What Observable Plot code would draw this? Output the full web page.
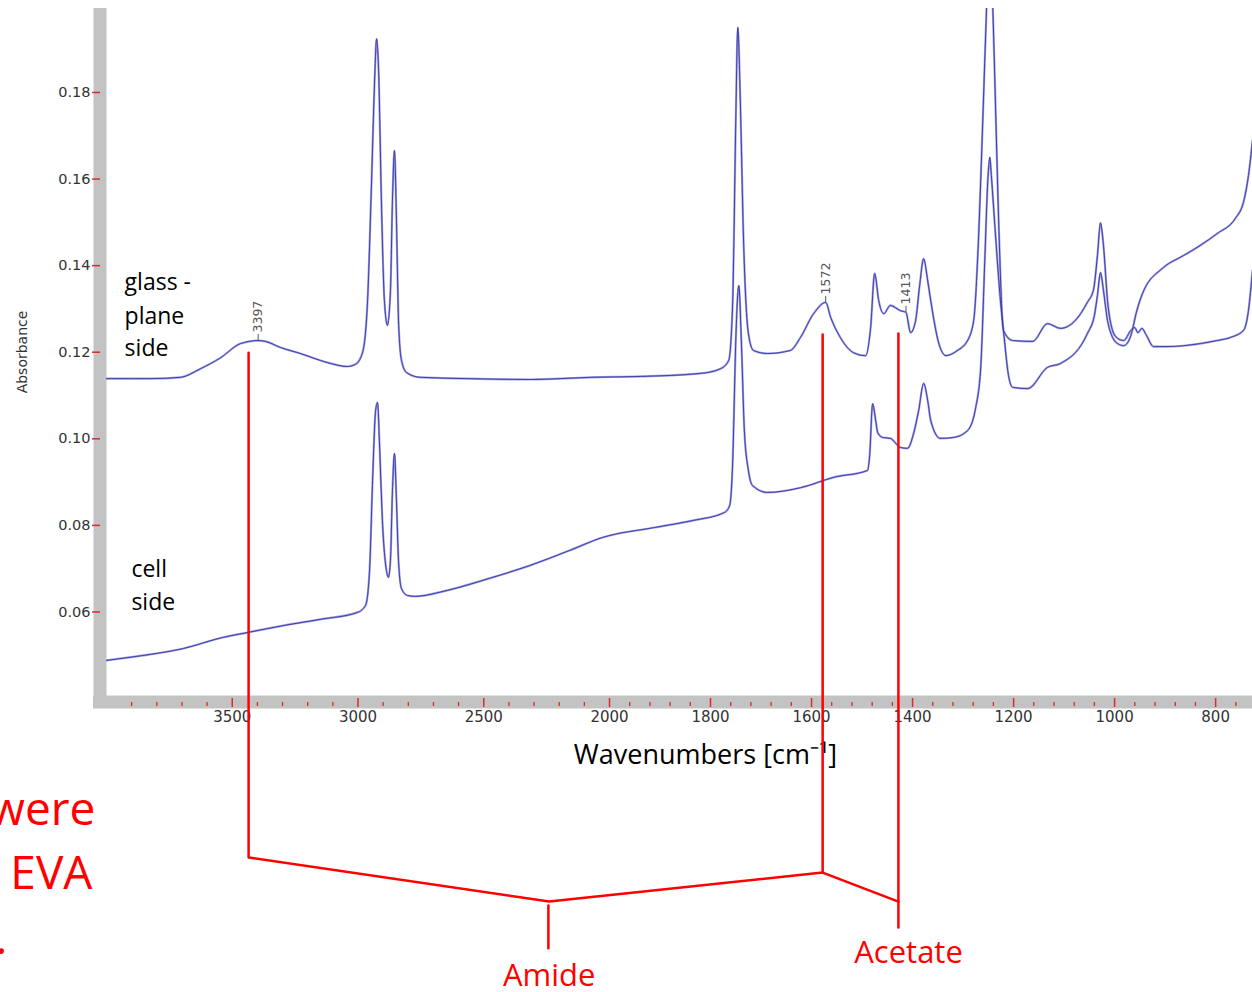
<!DOCTYPE html>
<html><head><meta charset="utf-8">
<script src="https://cdn.jsdelivr.net/npm/d3@7"></script>
<script src="https://cdn.jsdelivr.net/npm/@observablehq/plot@0.6"></script>
<style>body{margin:0;background:#fff;}#chart svg{display:block;}</style>
</head><body><div id="chart"></div>
<script>
// ---- spectra (wavenumber cm-1, absorbance) ----
const glassWn = [4000,3825,3706,3626,3547,3467,3397,3368,3308,3229,3121,3042,3010,2982,2962,2946,2934,2926,2918,2907,2895,2883,2871,2863,2855,2847,2839,2827,2807,2752,2565,2314,2076,1939,1820,1780,1764,1756,1750,1746,1741,1735,1725,1715,1687,1642,1622,1596,1572,1562,1543,1517,1493,1483,1475,1467,1457,1444,1424,1413,1404,1394,1386,1378,1370,1364,1348,1334,1311,1291,1279,1269,1261,1255,1248,1241,1235,1229,1220,1202,1162,1133,1107,1078,1054,1042,1034,1028,1022,1014,1004,994,982,968,960,954,946,937,923,899,864,830,797,771,745,735,727];
const glassAbs = [0.1139,0.1139,0.1142,0.1162,0.1187,0.1220,0.1227,0.1225,0.1211,0.1197,0.1176,0.1167,0.1172,0.1199,0.1319,0.1596,0.1827,0.1924,0.1851,0.1550,0.1319,0.1262,0.1342,0.1550,0.1666,0.1504,0.1273,0.1181,0.1153,0.1142,0.1139,0.1137,0.1142,0.1144,0.1151,0.1162,0.1181,0.1319,0.1735,0.1950,0.1781,0.1474,0.1243,0.1204,0.1197,0.1204,0.1234,0.1289,0.1315,0.1280,0.1234,0.1199,0.1192,0.1257,0.1382,0.1319,0.1289,0.1308,0.1296,0.1292,0.1245,0.1273,0.1354,0.1416,0.1365,0.1319,0.1220,0.1192,0.1204,0.1227,0.1273,0.1474,0.1735,0.1943,0.2150,0.1989,0.1735,0.1481,0.1250,0.1227,0.1225,0.1266,0.1255,0.1273,0.1315,0.1343,0.1423,0.1499,0.1446,0.1319,0.1250,0.1232,0.1227,0.1250,0.1257,0.1245,0.1255,0.1239,0.1213,0.1213,0.1215,0.1220,0.1227,0.1234,0.1250,0.1296,0.1389];
const cellWn = [4000,3861,3698,3539,3435,3292,3149,3002,2970,2954,2942,2930,2922,2915,2903,2887,2879,2871,2863,2855,2847,2839,2827,2803,2775,2644,2481,2318,2159,2028,1911,1836,1772,1762,1756,1750,1744,1739,1733,1725,1717,1687,1622,1556,1489,1485,1479,1473,1469,1459,1444,1424,1410,1398,1388,1378,1370,1364,1345,1319,1291,1275,1265,1257,1251,1247,1244,1236,1226,1220,1210,1202,1172,1133,1107,1054,1040,1034,1028,1022,1014,1004,994,982,968,956,945,903,864,830,797,761,745,735,727];
const cellAbs = [0.0488,0.0499,0.0515,0.0541,0.0553,0.0569,0.0583,0.0599,0.0615,0.0696,0.0904,0.1065,0.1084,0.0996,0.0811,0.0696,0.0680,0.0719,0.0880,0.0966,0.0857,0.0719,0.0654,0.0638,0.0636,0.0650,0.0677,0.0707,0.0742,0.0772,0.0795,0.0811,0.0830,0.0846,0.0950,0.1227,0.1354,0.1227,0.1019,0.0927,0.0892,0.0876,0.0887,0.0911,0.0927,0.0961,0.1081,0.1042,0.1014,0.1003,0.1001,0.0980,0.0978,0.1012,0.1065,0.1128,0.1088,0.1042,0.1001,0.1003,0.1019,0.1072,0.1165,0.1412,0.1597,0.1650,0.1608,0.1474,0.1319,0.1250,0.1146,0.1119,0.1116,0.1165,0.1174,0.1243,0.1285,0.1331,0.1384,0.1342,0.1273,0.1234,0.1220,0.1215,0.1238,0.1296,0.1335,0.1396,0.1423,0.1447,0.1474,0.1509,0.1546,0.1608,0.1689];

// ---- axes ----
const xMajorTicks = [3500,3000,2500,2000,1800,1600,1400,1200,1000,800];
const xMinorTicks = [3900,3800,3700,3600,3400,3300,3200,3100,2900,2800,2700,2600,2400,2300,2200,2100,1960,1920,1880,1840,1760,1720,1680,1640,1560,1520,1480,1440,1360,1320,1280,1240,1160,1120,1080,1040,960,920,880,840,760];
const yTicks = [0.06,0.08,0.10,0.12,0.14,0.16,0.18];
const xBreaks = [4000,2000,727];
const yExtent = [0.0407,0.1994];

// ---- peak labels ----
const peakWn = [3397,1572,1413];
const peakAbs = [0.1227,0.1315,0.1292];

// ---- spectrum labels ----
const sideText = ["glass -","plane","side","cell","side"];
const sideWn = [3928,3928,3928,3901,3901];
const sideAbs = [0.1343,0.1266,0.1192,0.0680,0.0604];

// ---- red annotation brackets ----
const bracketWn  = [3435,3435,2240,1578,1578, 1578,1428, 1428,1428, 2243,2243];
const bracketAbs = [0.1199,0.0033,-0.0069,-0.0002,0.1241, -0.0002,-0.0069, 0.1243,-0.0129, -0.0078,-0.0177];
const bracketGroup = ["a","a","a","a","a","b","b","c","c","d","d"];
const noteText = ["Amide","Acetate"];
const noteWn = [2240,1408];
const noteAbs = [-0.0265,-0.0210];
const fragText = ["were","EVA","."];
const fragWn = [4044,4056,4394];
const fragAbs = [0.0107,-0.0039,-0.0189];

const glass = glassWn.map((w,i)=>({w, a: glassAbs[i]}));
const cell = cellWn.map((w,i)=>({w, a: cellAbs[i]}));
const peaks = peakWn.map((w,i)=>({w, a: peakAbs[i], t: String(w)}));
const sides = sideText.map((t,i)=>({t, w: sideWn[i], a: sideAbs[i]}));
const brackets = bracketWn.map((w,i)=>({w, a: bracketAbs[i], g: bracketGroup[i]}));
const notes = noteText.map((t,i)=>({t, w: noteWn[i], a: noteAbs[i]}));
const frags = fragText.map((t,i)=>({t, w: fragWn[i], a: fragAbs[i]}));

const RED = "#ff0000", TICK = "#dd2a2a", GRAY = "#c3c3c3";
const lineOpts = {x:"w", y:"a", curve:"monotone-x", clip:true};

const chart = Plot.plot({
  width: 1252, height: 992,
  marginLeft: 106, marginRight: 0, marginTop: 8, marginBottom: 297,
  style: {background:"#fff", fontFamily:"'DejaVu Sans', sans-serif", overflow:"visible"},
  x: {type:"linear", domain: xBreaks, range:[106, 609, 1252]},
  y: {type:"linear", domain: yExtent},
  marks: [
    Plot.ruleY([yExtent[0]], {stroke: GRAY, strokeWidth: 13, dy: 6.5, insetLeft: -13}),
    Plot.ruleX([xBreaks[0]], {stroke: GRAY, strokeWidth: 13, dx: -6.5, insetBottom: -13}),
    Plot.line(glass, {...lineOpts, stroke:"#a0a0ea", strokeWidth: 2.2}),
    Plot.line(cell, {...lineOpts, stroke:"#a0a0ea", strokeWidth: 2.2}),
    Plot.line(glass, {...lineOpts, stroke:"#34349a", strokeWidth: 0.9}),
    Plot.line(cell, {...lineOpts, stroke:"#34349a", strokeWidth: 0.9}),
    Plot.axisX(xMinorTicks, {anchor:"bottom", tickSize: 4, dy: 7, stroke: TICK, strokeWidth: 1.3, tickFormat: () => "", label: null}),
    Plot.axisX(xMajorTicks, {anchor:"bottom", tickSize: 9, dy: 3, tickPadding: 4, stroke: TICK, strokeWidth: 1.5, fill:"#333", fontSize: 15, tickFormat: d => String(d), label: null}),
    Plot.axisY(yTicks, {anchor:"left", tickSize: 8, dx: -6, tickPadding: 2, stroke: TICK, strokeWidth: 1.5, fill:"#333", fontSize: 14.5, tickFormat: d3.format(".2f"), label: null}),
    Plot.text(["Absorbance"], {frameAnchor:"left", textAnchor:"middle", dx: -84, rotate: -90, fontSize: 14, fill:"#333"}),
    Plot.text(["Wavenumbers [cm\u207B\u00B9]"], {frameAnchor:"bottom", textAnchor:"middle", dx: 26, dy: 68, lineAnchor:"bottom", fontSize: 27, fill:"#000", fontFamily:"'Open Sans', sans-serif"}),
    Plot.ruleX(peaks, {x:"w", y1:"a", y2:"a", insetTop: -6, stroke:"#555", strokeWidth: 1}),
    Plot.text(peaks, {x:"w", y:"a", text:"t", rotate: -90, textAnchor:"start", lineAnchor:"middle", dy: -8, fontSize: 12.5, fill:"#555"}),
    Plot.text(sides, {x:"w", y:"a", text:"t", textAnchor:"start", lineAnchor:"bottom", fontSize: 23, fill:"#000", fontFamily:"'Open Sans', sans-serif"}),
    Plot.line(brackets, {x:"w", y:"a", z:"g", stroke: RED, strokeWidth: 2.5, curve:"linear"}),
    Plot.text(notes, {x:"w", y:"a", text:"t", textAnchor:"middle", lineAnchor:"bottom", fontSize: 31, fill: RED, fontFamily:"'Open Sans', sans-serif"}),
    Plot.text(frags, {x:"w", y:"a", text:"t", textAnchor:"end", lineAnchor:"bottom", fontSize: 46, fill: RED, fontFamily:"'Open Sans', sans-serif"})
  ]
});
document.getElementById("chart").appendChild(chart);
</script>
</body></html>
